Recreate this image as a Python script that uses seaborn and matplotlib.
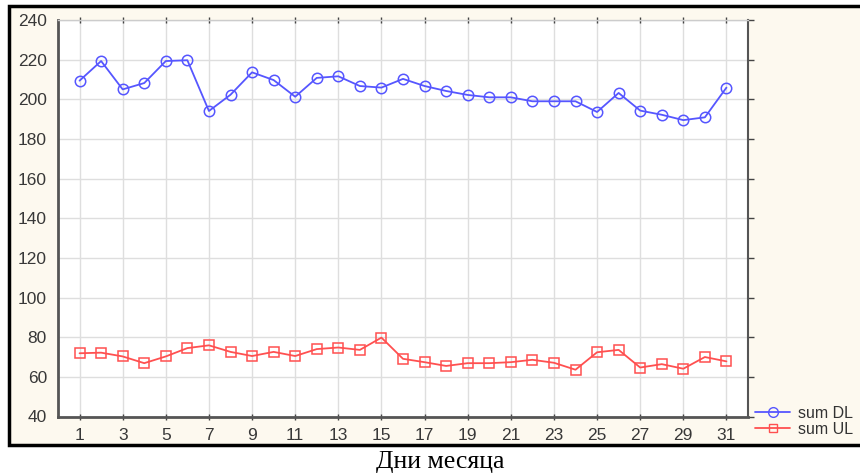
import numpy as np
import pandas as pd
import matplotlib
matplotlib.use("Agg")
import matplotlib.pyplot as plt
from matplotlib.patches import Rectangle
from matplotlib.lines import Line2D
import seaborn as sns

# data
days = list(range(1, 32))
sum_dl = [209.4, 219.3, 205.0, 208.2, 219.3, 219.7, 194.1, 202.3, 213.6, 209.7,
          201.3, 210.8, 211.6, 206.7, 205.9, 210.3, 206.7, 204.2, 202.2, 201.0,
          201.0, 199.0, 199.0, 199.0, 193.6, 203.2, 194.3, 192.2, 189.5, 190.9,
          205.9]
sum_ul = [71.9, 72.2, 70.3, 66.9, 70.3, 74.5, 75.9, 72.6, 70.5, 72.6,
          70.5, 74.0, 74.8, 73.6, 79.8, 69.1, 67.4, 65.5, 66.9, 66.9,
          67.4, 68.6, 67.1, 63.6, 72.4, 73.6, 64.7, 66.4, 64.1, 70.0,
          67.8]
x_ticks = list(range(1, 32, 2))
y_ticks = list(range(40, 241, 20))

df = pd.DataFrame({'day': days, 'sum DL': sum_dl, 'sum UL': sum_ul})

sns.set_style("white")
plt.rcParams['font.family'] = ['Liberation Sans', 'DejaVu Sans']

blue = '#5656ff'
red = '#ff5050'

fig = plt.figure(figsize=(8.6, 4.74), dpi=100)
fig.patch.set_facecolor('white')

# cream panel with black frame
panel = Rectangle((9 / 860, 1 - 445 / 474), 1 - 9 / 860 + 0.01, (445 - 6) / 474,
                  transform=fig.transFigure, facecolor='#fdf9ef', edgecolor='black',
                  linewidth=2.5, zorder=-5)
fig.patches.append(panel)

ax = fig.add_axes([58 / 860, 1 - 416.5 / 474, (748 - 58) / 860, (416.5 - 20) / 474])
ax.set_zorder(2)
ax.set_facecolor('white')

sns.lineplot(data=df, x='day', y='sum DL', ax=ax, color=blue, linewidth=1.3,
             marker='o', markersize=7.5, markerfacecolor='none',
             markeredgecolor=blue, markeredgewidth=1.1)
sns.lineplot(data=df, x='day', y='sum UL', ax=ax, color=red, linewidth=1.3,
             marker='s', markersize=6.5, markerfacecolor='none',
             markeredgecolor=red, markeredgewidth=1.1)

ax.set_xlim(0, 32)
ax.set_ylim(40, 240)
ax.set_xticks(x_ticks)
ax.set_yticks(y_ticks)
ax.grid(True, color='#dedede', linewidth=1)
ax.set_xlabel('')
ax.set_ylabel('')

ax.tick_params(axis='both', labelsize=12.5, labelcolor='#383838', color='#444444',
               length=4, width=1, direction='out')
ax.tick_params(top=True, right=True, bottom=True, left=False)
ax.tick_params(axis='x', which='major', top=True, direction='inout')
ax.xaxis.set_tick_params(pad=6)
ax.yaxis.set_tick_params(pad=4)

for side in ['left', 'bottom']:
    ax.spines[side].set_color('#555555')
    ax.spines[side].set_linewidth(2)
ax.spines['right'].set_color('#555555')
ax.spines['right'].set_linewidth(1.5)
ax.spines['top'].set_color('#cccccc')
ax.spines['top'].set_linewidth(1)

handles = [Line2D([], [], color=blue, linewidth=1.3, marker='o', markersize=7,
                  markerfacecolor='none', markeredgecolor=blue),
           Line2D([], [], color=red, linewidth=1.3, marker='s', markersize=6,
                  markerfacecolor='none', markeredgecolor=red)]
fig.legend(handles, ['sum DL', 'sum UL'], loc='lower left',
           bbox_to_anchor=(752 / 860, 1 - 440 / 474), frameon=False,
           fontsize=11.5, handlelength=2.2, handletextpad=0.5, labelspacing=0.05,
           borderaxespad=0, borderpad=0.2, labelcolor='#333333')

fig.text(440 / 860, 1 - 462 / 474, 'Дни месяца', ha='center', va='center',
         fontsize=18.5, family=['Liberation Serif', 'DejaVu Serif'], color='black')

fig.savefig('out.png', dpi=100)
